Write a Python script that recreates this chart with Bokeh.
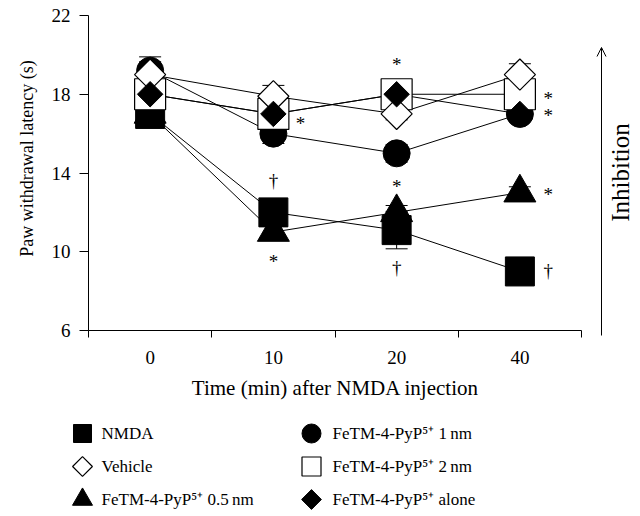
import math
from bokeh.plotting import figure
from bokeh.models import Range1d, FixedTicker, Label, Arrow, OpenHead, LinearAxis
from bokeh.embed import file_html
from bokeh.resources import INLINE
from bokeh.core.properties import value

# ---------------- data ----------------
times = ["0", "10", "20", "40"]
y_ticks = [6, 10, 14, 18, 22]

nmda = [17.0, 12.0, 11.1, 9.0]
nmda_err = [0.3, 0.4, 0.95, 0.3]
fe_05 = [17.0, 11.0, 12.0, 13.0]
fe_05_err = [0.3, 0.3, 0.35, 0.3]
fe_1 = [19.2, 16.0, 15.0, 17.0]
fe_1_err = [0.7, 0.5, 0.45, 0.3]
fe_2 = [18.0, 17.0, 18.0, 18.0]
fe_2_err = [0.3, 0.3, 0.3, 0.3]
vehicle = [19.0, 17.9, 17.0, 19.0]
vehicle_err = [0.65, 0.55, 0.3, 0.55]
fe_alone = [18.0, 17.0, 18.0, 17.0]
fe_alone_err = [0.3, 0.3, 0.3, 0.3]

legend_labels = ["NMDA", "Vehicle", "FeTM-4-PyP\u2075\u207a 0.5\u2009nm",
                 "FeTM-4-PyP\u2075\u207a 1\u2009nm", "FeTM-4-PyP\u2075\u207a 2\u2009nm",
                 "FeTM-4-PyP\u2075\u207a alone"]

sig_x = [1.22, 1.0, 1.0, 2.0, 2.0, 2.0, 3.23, 3.23, 3.23, 3.23]
sig_y = [16.5, 13.6, 9.5, 19.5, 13.3, 9.2, 17.8, 16.9, 12.9, 9.05]
sig_text = ["*", "\u2020", "*", "*", "*", "\u2020", "*", "*", "*", "\u2020"]

x_title = "Time (min) after NMDA injection"
y_title = "Paw withdrawal latency (s)"

FONT = "Liberation Serif"
W, H = 640, 516
xs = list(range(len(times)))

# ---------------- layout geometry (pixels) ----------------
FRAME_L, FRAME_T, FRAME_R, FRAME_B = 88, 15, 581, 330
PX_X = (FRAME_R - FRAME_L) / len(times)
PX_Y = (FRAME_B - FRAME_T) / (y_ticks[-1] - y_ticks[0])
X_LO = -0.5 - FRAME_L / PX_X
Y_HI = y_ticks[-1] + FRAME_T / PX_Y


def sx(px):
    return X_LO + px / PX_X


def sy(py):
    return Y_HI - py / PX_Y


p = figure(width=W, height=H, x_range=Range1d(sx(0), sx(W)), y_range=Range1d(sy(H), sy(0)),
           output_backend="svg", toolbar_location=None,
           x_axis_location=None, y_axis_location=None, min_border=0)
p.outline_line_color = None
p.xgrid.visible = False
p.ygrid.visible = False
p.background_fill_color = "white"
p.border_fill_color = "white"

yax = LinearAxis(fixed_location=-0.5, bounds=(y_ticks[0], y_ticks[-1]),
                 ticker=FixedTicker(ticks=y_ticks))
yax.major_tick_in = 0
yax.major_tick_out = 9
yax.minor_tick_in = 0
yax.minor_tick_out = 0
yax.major_label_standoff = 9

xax = LinearAxis(fixed_location=y_ticks[0], bounds=(-0.5, len(times) - 0.5),
                 ticker=FixedTicker(ticks=xs, minor_ticks=[i - 0.5 for i in range(len(times) + 1)]))
xax.major_label_overrides = {i: t for i, t in enumerate(times)}
xax.major_tick_in = 0
xax.major_tick_out = 0
xax.minor_tick_in = 0
xax.minor_tick_out = 7
xax.major_label_standoff = 13

for ax in (xax, yax):
    ax.axis_line_color = "black"
    ax.major_tick_line_color = "black"
    ax.minor_tick_line_color = "black"
    ax.major_label_text_font = FONT
    ax.major_label_text_font_size = "19px"
    ax.major_label_text_color = "black"
p.add_layout(yax, "left")
p.add_layout(xax, "below")

# axis titles
p.add_layout(Label(x=sx(26), y=sy(158), text=y_title, angle=math.pi / 2,
                   text_align="center", text_baseline="middle",
                   text_font=FONT, text_font_size="18px", text_color="black"))
p.add_layout(Label(x=sx(335), y=sy(387), text=x_title,
                   text_align="center", text_baseline="middle",
                   text_font=FONT, text_font_size="21px", text_color="black"))

series = [
    (nmda, nmda_err, dict(marker="square", size=29, fill_color="black", line_color="black")),
    (fe_05, fe_05_err, dict(marker="triangle", size=32, fill_color="black", line_color="black")),
    (fe_1, fe_1_err, dict(marker="circle", size=27, fill_color="black", line_color="black")),
    (fe_2, fe_2_err, dict(marker="square", size=31, fill_color="white", line_color="black", line_width=1.2)),
    (vehicle, vehicle_err, dict(marker="square", angle=math.pi / 4, size=22, fill_color="white", line_color="black", line_width=1.2)),
    (fe_alone, fe_alone_err, dict(marker="square", angle=math.pi / 4, size=18, fill_color="black", line_color="black")),
]

# error bars
for vals, errs, _ in series:
    up = [v + e for v, e in zip(vals, errs)]
    lo = [v - e for v, e in zip(vals, errs)]
    p.segment(xs, lo, xs, up, line_color="black", line_width=1)
    p.scatter(xs + xs, up + lo, marker="dash", size=22, line_color="black", line_width=1)

# lines
for vals, _, _ in series:
    p.line(xs, vals, line_color="black", line_width=1)

# markers
for vals, _, kw in series:
    p.scatter(xs, vals, **kw)

# significance marks
p.text(x=sig_x, y=sig_y, text=sig_text, text_font=value(FONT), text_font_size="19px",
       text_align="center", text_baseline="middle", text_color="black")

# inhibition arrow and label
p.add_layout(Arrow(end=OpenHead(size=9, line_width=1, line_color="black"),
                   x_start=sx(601), y_start=sy(335), x_end=sx(601), y_end=sy(47),
                   line_width=1, line_color="black"))
p.add_layout(Label(x=sx(620), y=sy(172), text="Inhibition", angle=math.pi / 2,
                   text_align="center", text_baseline="middle",
                   text_font=FONT, text_font_size="25px", text_color="black"))

# ---------------- legend ----------------
legend_markers = [
    dict(marker="square", size=18, fill_color="black", line_color="black"),
    dict(marker="square", angle=math.pi / 4, size=14, fill_color="white", line_color="black", line_width=1.2),
    dict(marker="triangle", size=20, fill_color="black", line_color="black"),
    dict(marker="circle", size=19, fill_color="black", line_color="black"),
    dict(marker="square", size=19, fill_color="white", line_color="black", line_width=1.2),
    dict(marker="square", angle=math.pi / 4, size=14, fill_color="black", line_color="black"),
]
col_marker_px = [82, 311]
col_text_px = [101, 332]
row_px = [433, 466, 499]
for i, (lab, kw) in enumerate(zip(legend_labels, legend_markers)):
    c, r = i // 3, i % 3
    p.scatter([sx(col_marker_px[c])], [sy(row_px[r])], **kw)
    p.text(x=[sx(col_text_px[c])], y=[sy(row_px[r])], text=[lab], text_font=value(FONT),
           text_font_size="17px", text_align="left", text_baseline="middle", text_color="black")

open("out.html", "w").write(file_html(p, INLINE))
